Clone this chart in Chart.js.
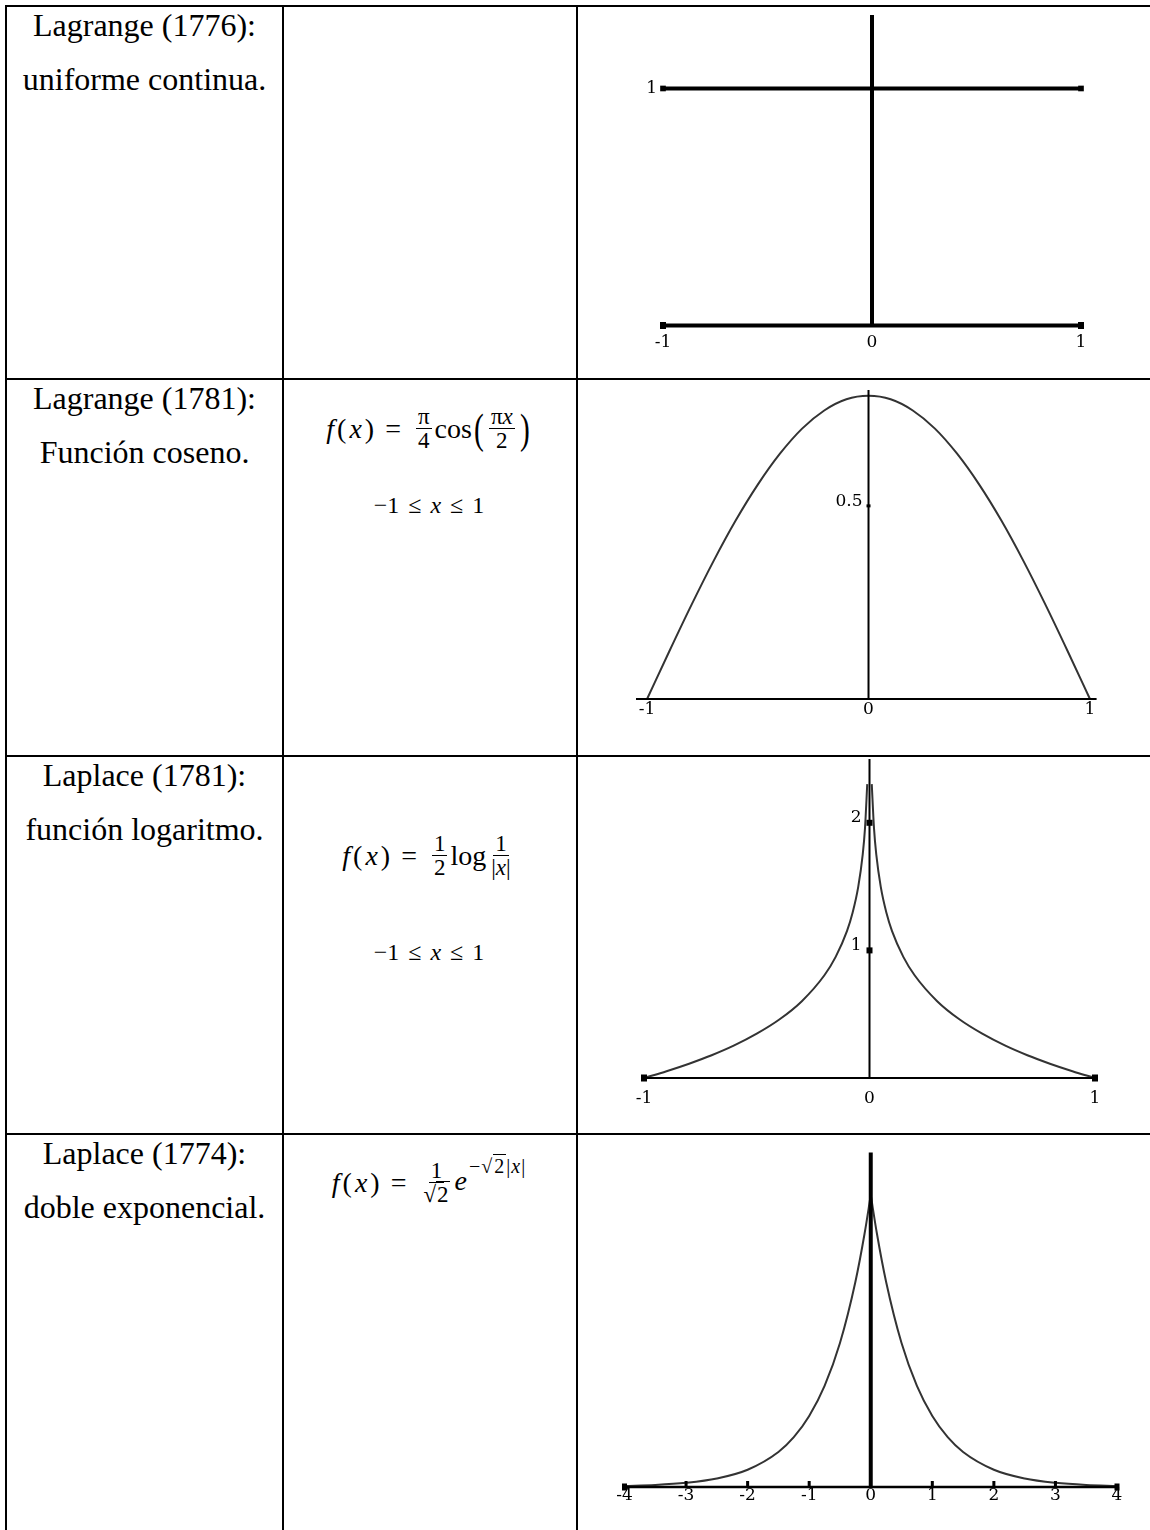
<!DOCTYPE html>
<html lang="es">
<head>
<meta charset="utf-8">
<title>Curvas de error: Lagrange y Laplace</title>
<script src="https://cdn.jsdelivr.net/npm/chart.js@4.4.1/dist/chart.umd.min.js"></script>
<style>
  html, body { margin: 0; padding: 0; background: #fff; }
  body { width: 1150px; height: 1530px; overflow: hidden; position: relative;
         font-family: "Liberation Serif", "Times New Roman", serif; color: #000; }
  .tabla { position: absolute; left: 5px; top: 5px; display: grid;
           border-left: 2px solid #000; border-top: 2px solid #000;
           grid-template-columns: 277px 294px 583px;
           grid-template-rows: 373px 377px 378px 425px; }
  .celda { box-sizing: border-box; position: relative;
           border-right: 2px solid #000; border-bottom: 2px solid #000; }
  .nombre { font-size: 32px; line-height: 54px; text-align: center; margin-top: -9px; }
  .eq { position: absolute; left: 0; right: 2px; display: flex; align-items: center;
        justify-content: center; font-size: 28px; line-height: 28px; white-space: nowrap; }
  .fx { letter-spacing: 3px; }
  .igual { margin: 0 12px 0 8px; }
  .frac { display: inline-flex; flex-direction: column; align-items: center;
          font-size: 23px; line-height: 23px; margin: 0 3px; }
  .frac > span { padding: 0 2px; }
  .frac > span:first-child { border-bottom: 1.5px solid #000; }
  .par { font-size: 42px; line-height: 42px; display: inline-block; transform: scaleX(0.7); }
  .rad { border-top: 1.2px solid #000; padding: 0 1px; }
  .exp { position: relative; top: -1px; }
  .exp .sup { position: relative; top: -17px; font-size: 20px; margin-left: 2px; letter-spacing: 1px; }
  .ineq { position: absolute; left: 0; right: 2px; text-align: center;
          font-size: 24px; line-height: 24px; word-spacing: 3px; }
  canvas { position: absolute; left: 0; top: 0; }
</style>
</head>
<body>
<div class="tabla">
  <div class="celda"><div class="nombre">Lagrange (1776):<br>uniforme continua.</div></div>
  <div class="celda"></div>
  <div class="celda"><canvas id="uniforme" width="572" height="371"></canvas></div>

  <div class="celda"><div class="nombre">Lagrange (1781):<br>Función coseno.</div></div>
  <div class="celda">
    <div class="eq" style="top:25px">
      <span class="fx"><i>f</i>(<i>x</i>)</span><span class="igual">=</span>
      <span class="frac"><span>π</span><span>4</span></span><span>cos</span>
      <span class="par">(</span><span class="frac"><span>π<i>x</i></span><span>2</span></span><span class="par">)</span>
    </div>
    <div class="ineq" style="top:113px">−1 ≤ <i>x</i> ≤ 1</div>
  </div>
  <div class="celda"><canvas id="coseno" width="572" height="375"></canvas></div>

  <div class="celda"><div class="nombre">Laplace (1781):<br>función logaritmo.</div></div>
  <div class="celda">
    <div class="eq" style="top:75px">
      <span class="fx"><i>f</i>(<i>x</i>)</span><span class="igual">=</span>
      <span class="frac"><span>1</span><span>2</span></span><span>log</span>
      <span class="frac"><span>1</span><span>|<i>x</i>|</span></span>
    </div>
    <div class="ineq" style="top:183px">−1 ≤ <i>x</i> ≤ 1</div>
  </div>
  <div class="celda"><canvas id="logaritmo" width="572" height="376"></canvas></div>

  <div class="celda"><div class="nombre">Laplace (1774):<br>doble exponencial.</div></div>
  <div class="celda">
    <div class="eq" style="top:24px">
      <span class="fx"><i>f</i>(<i>x</i>)</span><span class="igual">=</span>
      <span class="frac"><span>1</span><span>√<span class="rad">2</span></span></span>
      <span class="exp"><i>e</i><span class="sup">−√<span class="rad">2</span>|<i>x</i>|</span></span>
    </div>
  </div>
  <div class="celda"><canvas id="dobleExp" width="572" height="395"></canvas></div>
</div>

<script>
// Lagrange (1776): densidad uniforme
const uniformeX = [-1, 1];
const uniformeY = [1, 1];

// Lagrange (1781): coseno
const cosenoX = [-1, -0.9, -0.8, -0.7, -0.6, -0.5, -0.4, -0.3, -0.2, -0.1, 0,
                 0.1, 0.2, 0.3, 0.4, 0.5, 0.6, 0.7, 0.8, 0.9, 1];
const cosenoY = [0, 0.123, 0.243, 0.357, 0.462, 0.555, 0.635, 0.700, 0.747, 0.776, 0.785,
                 0.776, 0.747, 0.700, 0.635, 0.555, 0.462, 0.357, 0.243, 0.123, 0];

// Laplace (1781): logaritmo (se corta cerca de x = 0)
const logX = [-1, -0.9, -0.8, -0.7, -0.6, -0.5, -0.4, -0.3, -0.2, -0.15, -0.1, -0.075, -0.05, -0.03, -0.02, -0.01,
              0.01, 0.02, 0.03, 0.05, 0.075, 0.1, 0.15, 0.2, 0.3, 0.4, 0.5, 0.6, 0.7, 0.8, 0.9, 1];
const logY = [0, 0.053, 0.112, 0.178, 0.255, 0.347, 0.458, 0.602, 0.805, 0.949, 1.151, 1.295, 1.498, 1.753, 1.956, 2.303,
              2.303, 1.956, 1.753, 1.498, 1.295, 1.151, 0.949, 0.805, 0.602, 0.458, 0.347, 0.255, 0.178, 0.112, 0.053, 0];

// Laplace (1774): doble exponencial
const dexpX = [-4, -3.5, -3, -2.5, -2, -1.5, -1.25, -1, -0.75, -0.5, -0.25, -0.1, 0,
               0.1, 0.25, 0.5, 0.75, 1, 1.25, 1.5, 2, 2.5, 3, 3.5, 4];
const dexpY = [0.0025, 0.005, 0.0102, 0.0206, 0.0418, 0.0848, 0.1207, 0.1719, 0.2448, 0.3487, 0.4965, 0.6138, 0.7071,
               0.6138, 0.4965, 0.3487, 0.2448, 0.1719, 0.1207, 0.0848, 0.0418, 0.0206, 0.0102, 0.005, 0.0025];

// marcas y etiquetas de los ejes
const uniformeTicksX = [-1, 0, 1];
const uniformeEtiqX = ['-1', '0', '1'];
const uniformeTicksY = [1];
const uniformeEtiqY = ['1'];
const cosenoTicksX = [-1, 0, 1];
const cosenoEtiqX = ['-1', '0', '1'];
const cosenoTicksY = [0.5];
const cosenoEtiqY = ['0.5'];
const logTicksX = [-1, 0, 1];
const logEtiqX = ['-1', '0', '1'];
const logTicksY = [1, 2];
const logEtiqY = ['1', '2'];
const dexpTicksX = [-4, -3, -2, -1, 0, 1, 2, 3, 4];
const dexpEtiqX = ['-4', '-3', '-2', '-1', '0', '1', '2', '3', '4'];

function puntos(xs, ys, filtro) {
    return xs.map((x, i) => ({ x: x, y: ys[i] })).filter(p => !filtro || filtro(p.x));
}

// ejes cruzados en el origen, como en la salida de Maple
function ejesCruzados(c) {
    return {
        id: 'ejesCruzados',
        afterDatasetsDraw(chart) {
            const { ctx, scales: { x, y } } = chart;
            const px = v => x.getPixelForValue(v);
            const py = v => y.getPixelForValue(v);
            const x0 = px(0), y0 = py(0);
            ctx.save();
            ctx.strokeStyle = '#000';
            ctx.fillStyle = '#000';
            ctx.lineWidth = c.anchoX;
            ctx.beginPath(); ctx.moveTo(px(c.desdeX), y0); ctx.lineTo(px(c.hastaX), y0); ctx.stroke();
            ctx.lineWidth = c.anchoY;
            ctx.beginPath(); ctx.moveTo(x0, y0); ctx.lineTo(x0, py(c.hastaY)); ctx.stroke();
            if (c.tapa) {
                [c.desdeX, c.hastaX].forEach(v => ctx.fillRect(px(v) - c.tapa[0] / 2, y0 - c.tapa[1] / 2, c.tapa[0], c.tapa[1]));
            }
            (c.marcasX || []).forEach(v => ctx.fillRect(px(v) - 1.5, y0 - 6, 3, 6));
            (c.marcasY || []).forEach(v => ctx.fillRect(x0 - c.marcaY[0] / 2, py(v) - c.marcaY[1] / 2, c.marcaY[0], c.marcaY[1]));
            ctx.font = '17px "DejaVu Serif", serif';
            ctx.fillStyle = '#000';
            ctx.textAlign = 'center';
            ctx.textBaseline = 'middle';
            c.ticksX.forEach((v, i) => ctx.fillText(c.etiqX[i], px(v), y0 + c.sepX));
            ctx.textAlign = 'right';
            c.ticksY.forEach((v, i) => ctx.fillText(c.etiqY[i], px(c.posY) - c.sepY, py(v) + c.dy));
            ctx.restore();
        }
    };
}

function opciones(xMin, xMax, yMax, padding) {
    return {
        responsive: false,
        animation: false,
        events: [],
        layout: { padding: padding },
        scales: {
            x: { type: 'linear', display: false, min: xMin, max: xMax },
            y: { type: 'linear', display: false, min: 0, max: yMax }
        },
        plugins: { legend: { display: false }, tooltip: { enabled: false } }
    };
}

const curva = { showLine: true, borderColor: '#333', borderWidth: 2, pointRadius: 0,
                cubicInterpolationMode: 'monotone', clip: false };

new Chart(document.getElementById('uniforme'), {
    type: 'scatter',
    data: { datasets: [{ data: puntos(uniformeX, uniformeY), showLine: true, borderColor: '#000', borderWidth: 4,
                         pointStyle: 'rect', pointRadius: 4, pointBackgroundColor: '#000', pointBorderWidth: 0, clip: false }] },
    options: opciones(-1, 1, 1.31, { left: 85, right: 69, top: 8, bottom: 52.5 }),
    plugins: [ejesCruzados({ desdeX: -1, hastaX: 1, hastaY: 1.31, anchoX: 4, anchoY: 4, tapa: [6, 7],
                             ticksX: uniformeTicksX, etiqX: uniformeEtiqX, sepX: 17,
                             ticksY: uniformeTicksY, etiqY: uniformeEtiqY, posY: -1, sepY: 6, dy: 0 })]
});

new Chart(document.getElementById('coseno'), {
    type: 'scatter',
    data: { datasets: [Object.assign({ data: puntos(cosenoX, cosenoY) }, curva)] },
    options: opciones(-1.05, 1.03, 0.8, { left: 58, right: 53.4, top: 10, bottom: 56 }),
    plugins: [ejesCruzados({ desdeX: -1.05, hastaX: 1.03, hastaY: 0.8, anchoX: 2, anchoY: 2,
                             marcasY: cosenoTicksY, marcaY: [4, 3],
                             ticksX: cosenoTicksX, etiqX: cosenoEtiqX, sepX: 11,
                             ticksY: cosenoTicksY, etiqY: cosenoEtiqY, posY: 0, sepY: 6, dy: -4 })]
});

new Chart(document.getElementById('logaritmo'), {
    type: 'scatter',
    data: { datasets: [Object.assign({ data: puntos(logX, logY, x => x < 0) }, curva),
                       Object.assign({ data: puntos(logX, logY, x => x > 0) }, curva)] },
    options: opciones(-1, 1, 2.5, { left: 66, right: 55, top: 2, bottom: 55 }),
    plugins: [ejesCruzados({ desdeX: -1, hastaX: 1, hastaY: 2.5, anchoX: 2, anchoY: 2, tapa: [6, 7],
                             marcasY: logTicksY, marcaY: [6, 6],
                             ticksX: logTicksX, etiqX: logEtiqX, sepX: 21,
                             ticksY: logTicksY, etiqY: logEtiqY, posY: 0, sepY: 8, dy: -5 })]
});

new Chart(document.getElementById('dobleExp'), {
    type: 'scatter',
    data: { datasets: [Object.assign({ data: puntos(dexpX, dexpY, x => x <= 0) }, curva),
                       Object.assign({ data: puntos(dexpX, dexpY, x => x >= 0) }, curva)] },
    options: opciones(-4, 4, 0.81, { left: 46.5, right: 33, top: 17.5, bottom: 43 }),
    plugins: [ejesCruzados({ desdeX: -4, hastaX: 4, hastaY: 0.81, anchoX: 2.5, anchoY: 4, tapa: [5, 7],
                             marcasX: [-3, -2, -1, 1, 2, 3],
                             ticksX: dexpTicksX, etiqX: dexpEtiqX, sepX: 9,
                             ticksY: [], etiqY: [], posY: 0, sepY: 0, dy: 0 })]
});
</script>
</body>
</html>
